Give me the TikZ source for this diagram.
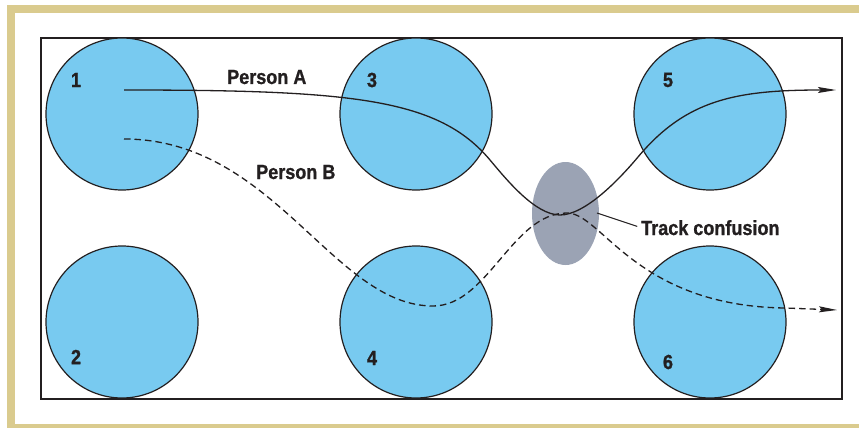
\documentclass[tikz,border=0pt]{standalone}
\usepackage{fontspec}
\newfontfamily\labfont{Liberation Sans}[FakeStretch=0.88, BoldFeatures={FakeBold=1}]
\usetikzlibrary{arrows.meta}
\definecolor{framecol}{RGB}{218,203,142}
\definecolor{zonecol}{RGB}{120,202,240}
\definecolor{confcol}{RGB}{155,163,180}
\definecolor{inkcol}{RGB}{35,31,32}
\begin{document}
\begin{tikzpicture}[x=1pt,y=-1pt,
  zone/.style={circle, draw=inkcol, fill=zonecol, line width=1.2pt, minimum size=152pt, inner sep=0pt},
  num/.style={font=\labfont\bfseries\fontsize{20.5}{23}\selectfont, text=inkcol, inner sep=0pt},
  lab/.style={num, anchor=base west},
  track/.style={draw=inkcol, line width=1.3pt},
  dashtrack/.style={track, dash pattern=on 6.5pt off 4pt},
  tip/.style={-{Stealth[length=18pt, width=6pt, inset=3pt]}}]
\useasboundingbox (0,0) rectangle (859,428);
\fill[white] (0,0) rectangle (859,428);
\clip (0,0) rectangle (859,428);
% frame
\fill[framecol] (7,5) rectangle (859,13);
\fill[framecol] (7,5) rectangle (15,428);
\fill[framecol] (7,424) rectangle (859,430);
% inner box
\draw[inkcol, line width=1.2pt] (41,38) rectangle (842,399);
% zones
\node[zone] (z1) at (122,114) {};
\node[zone] (z2) at (122,322) {};
\node[zone] (z3) at (416,114) {};
\node[zone] (z4) at (416,322) {};
\node[zone] (z5) at (710,114) {};
\node[zone] (z6) at (710,322) {};
\node[num] (n1) at (76,80) {1};
\node[num] (n2) at (76,357) {2};
\node[num] (n3) at (372,80) {3};
\node[num] (n4) at (372,358) {4};
\node[num] (n5) at (668,80) {5};
\node[num] (n6) at (668,362) {6};
% confusion zone
\fill[confcol] (565.5,213.5) ellipse [x radius=33.5, y radius=51.5];
% track A
\coordinate (a0) at (124,90);
\coordinate (a1) at (490,160);
\coordinate (a2) at (560,215);
\coordinate (a3) at (638,157);
\coordinate (a4) at (836,90);
\draw[track, tip] (a0) .. controls +(230,0) and +(-51.4,-61.3) .. (a1)
  .. controls +(16,19) and +(-25,0) .. (a2)
  .. controls +(25,0) and +(-19.3,23) .. (a3)
  .. controls +(48.2,-57.5) and +(-100,0) .. (a4);
% track B
\coordinate (b0) at (124,139);
\coordinate (b1) at (433,306);
\coordinate (b2) at (567,213);
\coordinate (b3) at (785,308);
\coordinate (b4) at (837,310);
\draw[dashtrack, tip] (b0) .. controls +(150,0) and +(-100,0) .. (b1)
  .. controls +(55,0) and +(-55,0) .. (b2)
  .. controls +(35,0) and +(-150,-2) .. (b3)
  -- (b4);
% labels
\node[lab] (pa) at (227,84) {Person A};
\node[lab] (pb) at (256,179) {Person B};
\node[lab] (tc) at (641,235) {Track confusion};
\coordinate (lc) at (597,213);
\draw[inkcol, line width=1pt, shorten >=4pt] (lc) -- (tc.west);
\end{tikzpicture}
\end{document}
